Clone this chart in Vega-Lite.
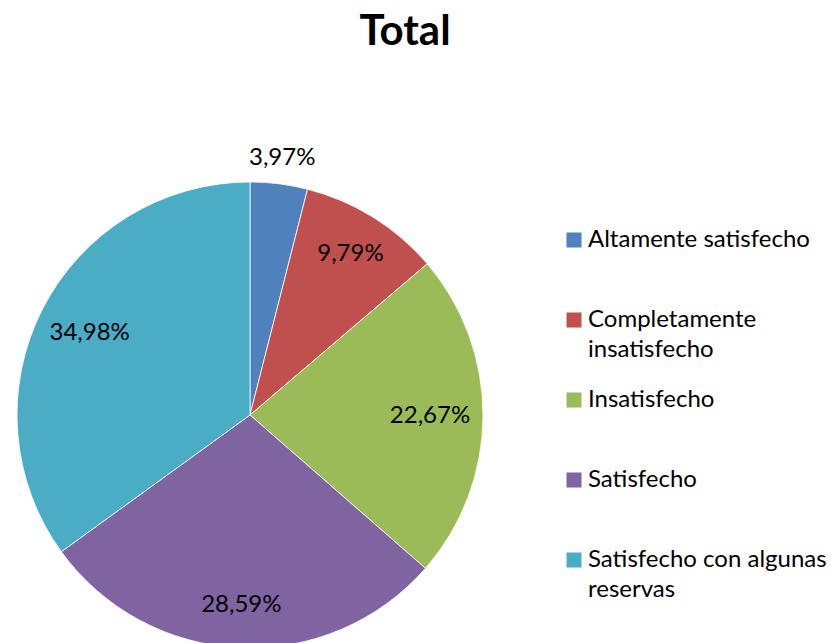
{
  "$schema": "https://vega.github.io/schema/vega-lite/v6.json",
  "width": 500,
  "height": 466,
  "autosize": {"type": "none"},
  "padding": {"left": 0, "top": 182, "right": 335, "bottom": 0},
  "background": "white",
  "config": {
    "view": {"stroke": null},
    "style": {"guide-label": {"lineHeight": 30}},
    "locale": {"number": {"decimal": ",", "thousands": ".", "grouping": [3], "currency": ["", " €"]}}
  },
  "title": {"text": "Total", "font": "Lato", "fontSize": 42, "fontWeight": "bold", "color": "black", "anchor": "middle", "offset": 92, "dx": 155},
  "data": {"values": [
    {"idx": 1, "category": "Altamente satisfecho", "value": 0.0397},
    {"idx": 2, "category": "Completamente insatisfecho", "value": 0.0979},
    {"idx": 3, "category": "Insatisfecho", "value": 0.2267},
    {"idx": 4, "category": "Satisfecho", "value": 0.2859},
    {"idx": 5, "category": "Satisfecho con algunas reservas", "value": 0.3498}
  ]},
  "encoding": {
    "theta": {"field": "value", "type": "quantitative", "stack": true},
    "order": {"field": "idx", "type": "quantitative"}
  },
  "layer": [
    {
      "mark": {"type": "arc", "outerRadius": 233, "stroke": "white", "strokeWidth": 0.8},
      "encoding": {
        "color": {
          "field": "category", "type": "nominal",
          "scale": {
            "domain": ["Altamente satisfecho", "Completamente insatisfecho", "Insatisfecho", "Satisfecho", "Satisfecho con algunas reservas"],
            "range": ["#4F81BD", "#C0504D", "#9BBB59", "#8064A2", "#4BACC6"]
          },
          "legend": {
            "orient": "none", "legendX": 562, "legendY": 46,
            "title": null, "symbolType": "square", "symbolSize": 225,
            "symbolStrokeWidth": 0, "symbolOpacity": 1,
            "labelFont": "Lato", "labelFontSize": 24, "labelColor": "black",
            "labelOffset": 2, "labelLimit": 300, "rowPadding": 26, "gridAlign": "all",
            "labelExpr": "datum.label == 'Completamente insatisfecho' ? ['Completamente', 'insatisfecho'] : datum.label == 'Satisfecho con algunas reservas' ? ['Satisfecho con algunas', 'reservas'] : datum.label"
          }
        }
      }
    },
    {
      "mark": {"type": "text", "radius": 259, "font": "Lato", "fontSize": 24, "color": "black"},
      "encoding": {"text": {"condition": {"test": "datum.idx == 1", "field": "value", "type": "quantitative", "format": ".2%"}, "value": ""}}
    },
    {
      "mark": {"type": "text", "radius": 190, "font": "Lato", "fontSize": 24, "color": "black"},
      "encoding": {"text": {"condition": {"test": "datum.idx == 2 || datum.idx == 4", "field": "value", "type": "quantitative", "format": ".2%"}, "value": ""}}
    },
    {
      "mark": {"type": "text", "radius": 180, "font": "Lato", "fontSize": 24, "color": "black"},
      "encoding": {"text": {"condition": {"test": "datum.idx == 3 || datum.idx == 5", "field": "value", "type": "quantitative", "format": ".2%"}, "value": ""}}
    }
  ]
}
